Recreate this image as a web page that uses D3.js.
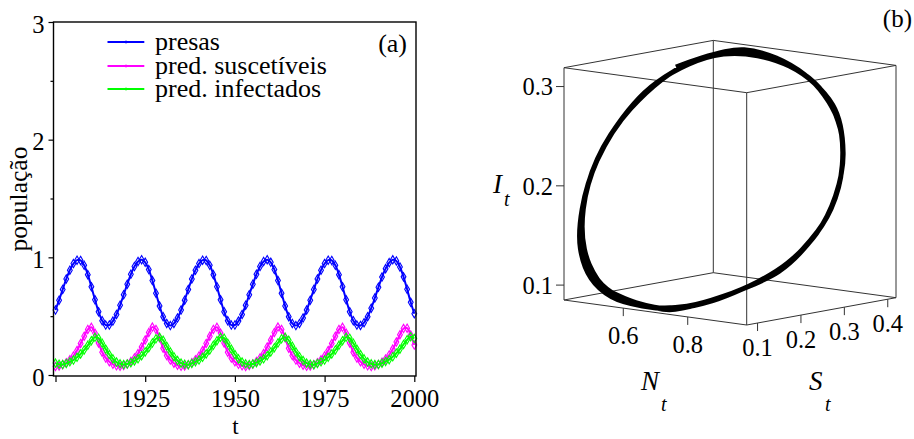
<!DOCTYPE html>
<html>
<head>
<meta charset="utf-8">
<script src="https://cdn.jsdelivr.net/npm/d3@7"></script>
<style>
  body { margin: 0; background: #fff; }
  svg { display: block; }
</style>
</head>
<body>
<svg id="chart" width="914" height="439"></svg>
<script>
// ---- data: yearly values, 1900 .. 2000 ----
const startYear = 1900;

const presas = [
  0.552, 0.636, 0.727, 0.816, 0.891, 0.947, 0.976, 0.974, 0.932, 0.853,
  0.750, 0.639, 0.538, 0.462, 0.424, 0.425, 0.458, 0.515, 0.593, 0.682,
  0.772, 0.856, 0.922, 0.965, 0.980, 0.958, 0.896, 0.803, 0.695, 0.587,
  0.496, 0.438, 0.420, 0.438, 0.484, 0.552, 0.636, 0.727, 0.816, 0.891,
  0.947, 0.976, 0.974, 0.932, 0.853, 0.750, 0.639, 0.538, 0.462, 0.424,
  0.425, 0.458, 0.515, 0.593, 0.682, 0.772, 0.856, 0.922, 0.965, 0.980,
  0.958, 0.896, 0.803, 0.695, 0.587, 0.496, 0.438, 0.420, 0.438, 0.484,
  0.552, 0.636, 0.727, 0.816, 0.891, 0.947, 0.976, 0.974, 0.932, 0.853,
  0.750, 0.639, 0.538, 0.462, 0.424, 0.421, 0.445, 0.496, 0.568, 0.654,
  0.746, 0.832, 0.904, 0.955, 0.979, 0.969, 0.918, 0.834, 0.728, 0.618,
  0.521
];

const predSuscetiveis = [
  0.073, 0.077, 0.087, 0.104, 0.129, 0.162, 0.208, 0.268, 0.330, 0.387,
  0.405, 0.356, 0.273, 0.194, 0.145, 0.113, 0.091, 0.078, 0.074, 0.081,
  0.094, 0.115, 0.144, 0.182, 0.238, 0.298, 0.362, 0.407, 0.387, 0.316,
  0.228, 0.166, 0.127, 0.100, 0.083, 0.074, 0.077, 0.087, 0.104, 0.129,
  0.162, 0.208, 0.268, 0.330, 0.387, 0.405, 0.356, 0.273, 0.194, 0.145,
  0.113, 0.091, 0.078, 0.072, 0.081, 0.094, 0.115, 0.144, 0.182, 0.238,
  0.298, 0.362, 0.407, 0.387, 0.316, 0.228, 0.166, 0.127, 0.100, 0.083,
  0.074, 0.077, 0.087, 0.104, 0.129, 0.162, 0.208, 0.268, 0.330, 0.387,
  0.405, 0.356, 0.273, 0.194, 0.145, 0.113, 0.091, 0.078, 0.072, 0.079,
  0.090, 0.109, 0.135, 0.170, 0.220, 0.280, 0.343, 0.395, 0.398, 0.340,
  0.255
];

const predInfectados = [
  0.101, 0.092, 0.089, 0.098, 0.112, 0.127, 0.150, 0.179, 0.213, 0.252,
  0.292, 0.320, 0.313, 0.270, 0.220, 0.174, 0.137, 0.110, 0.095, 0.089,
  0.093, 0.105, 0.120, 0.138, 0.164, 0.196, 0.232, 0.272, 0.308, 0.321,
  0.295, 0.245, 0.197, 0.155, 0.123, 0.101, 0.092, 0.088, 0.098, 0.112,
  0.127, 0.150, 0.179, 0.213, 0.252, 0.292, 0.320, 0.313, 0.270, 0.220,
  0.174, 0.137, 0.110, 0.095, 0.089, 0.093, 0.105, 0.120, 0.138, 0.164,
  0.196, 0.232, 0.272, 0.308, 0.321, 0.295, 0.245, 0.197, 0.155, 0.123,
  0.101, 0.092, 0.088, 0.098, 0.112, 0.127, 0.150, 0.179, 0.213, 0.252,
  0.292, 0.320, 0.313, 0.270, 0.220, 0.174, 0.137, 0.110, 0.095, 0.089,
  0.090, 0.100, 0.115, 0.130, 0.155, 0.185, 0.220, 0.260, 0.300, 0.325,
  0.310
];

const seriesNames = ["presas", "pred. suscetíveis", "pred. infectados"];
const seriesColors = ["#0000ff", "#ff00ff", "#00ff00"];

const xTickYears = [1900, 1925, 1950, 1975, 2000];
const yTickValues = [0, 1, 2, 3];
const yMinorValues = [0.5, 1.5, 2.5];

// 3-D phase portrait axes (N = presas, S = suscetíveis, I = infectados)
const nDomain = [0.416, 0.983];
const sDomain = [0.075, 0.419];
const iDomain = [0.085, 0.319];
const nTickValues = [0.6, 0.8];
const sTickValues = [0.1, 0.2, 0.3, 0.4];
const iTickValues = [0.1, 0.2, 0.3];

// ---- drawing ----
const SERIF = '"Liberation Serif"';
const svg = d3.select("#chart");
const years = presas.map((_, i) => startYear + i);
const series = [presas, predSuscetiveis, predInfectados].map((vals, k) => ({
  name: seriesNames[k],
  color: seriesColors[k],
  points: vals.map((v, i) => ({ t: years[i], v }))
}));

function label(sel, size, italic) {
  sel.style("font-family", SERIF).style("font-size", size + "px").attr("fill", "#000");
  if (italic) sel.style("font-style", "italic");
  return sel;
}

// ===== panel (a): time series =====
const frame = { left: 53.5, right: 416, top: 22, bottom: 376 };
const x = d3.scaleLinear().domain([1900, 2000]).range([55.5, 414.3]);
const y = d3.scaleLinear().domain([0, 3]).range([375, 22]);

const pa = svg.append("g");

const line = d3.line().x(d => x(d.t)).y(d => y(d.v)).curve(d3.curveCatmullRom.alpha(0.5));
const marker = d3.symbol().type(d3.symbolDiamond).size(20);

series.forEach(s => {
  const g = pa.append("g");
  g.append("path")
    .attr("d", line(s.points))
    .attr("fill", "none")
    .attr("stroke", s.color)
    .attr("stroke-width", 2);
  g.selectAll("path.mk").data(s.points).join("path")
    .attr("class", "mk")
    .attr("d", marker)
    .attr("transform", d => `translate(${x(d.t)},${y(d.v)})`)
    .attr("fill", "none")
    .attr("stroke", s.color)
    .attr("stroke-width", 1.1);
});

// frame
pa.append("rect")
  .attr("x", frame.left).attr("y", frame.top)
  .attr("width", frame.right - frame.left).attr("height", frame.bottom - frame.top)
  .attr("fill", "none").attr("stroke", "#000").attr("stroke-width", 1.4);

function styleAxis(g, size) {
  g.select(".domain").remove();
  g.selectAll(".tick line").attr("stroke", "#000").attr("stroke-width", 1.2);
  label(g.selectAll(".tick text"), size);
}

const gx = pa.append("g").attr("transform", `translate(0,${frame.bottom})`)
  .call(d3.axisBottom(x).tickValues(xTickYears).tickSize(6).tickPadding(8)
    .tickFormat(d => d === 1900 ? "" : d3.format("d")(d)));
styleAxis(gx, 24.5);

const gy = pa.append("g").attr("transform", `translate(${frame.left},0)`)
  .call(d3.axisLeft(y).tickValues(yTickValues).tickSize(5).tickPadding(4).tickFormat(d3.format("d")));
styleAxis(gy, 24.5);
gy.selectAll(".tick text").attr("dy", "0.42em");

const gym = pa.append("g").attr("transform", `translate(${frame.left},0)`)
  .call(d3.axisLeft(y).tickValues(yMinorValues).tickSize(3).tickFormat(""));
styleAxis(gym, 24);

// axis titles
label(pa.append("text"), 25.5)
  .attr("transform", `translate(27,199) rotate(-90)`)
  .attr("text-anchor", "middle")
  .text("população");
label(pa.append("text"), 23)
  .attr("x", (x(1900) + x(2000)) / 2 + 0.5).attr("y", 434)
  .attr("text-anchor", "middle")
  .text("t");
label(pa.append("text"), 26)
  .attr("x", 407).attr("y", 52)
  .attr("text-anchor", "end")
  .text("(a)");

// legend
const legendRows = [42, 66, 89];
const lg = pa.append("g");
series.forEach((s, k) => {
  const ly = legendRows[k];
  lg.append("line")
    .attr("x1", 107.5).attr("x2", 144.3).attr("y1", ly).attr("y2", ly)
    .attr("stroke", s.color).attr("stroke-width", 2);
  lg.append("line")
    .attr("x1", 126).attr("x2", 126).attr("y1", ly - 1.5).attr("y2", ly + 1.5)
    .attr("stroke", s.color).attr("stroke-width", 1);
  label(lg.append("text"), 26)
    .attr("x", 155).attr("y", ly + 7.5)
    .text(s.name);
});

// ===== panel (b): 3-D phase portrait =====
const nS = d3.scaleLinear().domain(nDomain).range([0, 1]);
const sS = d3.scaleLinear().domain(sDomain).range([0, 1]);
const iS = d3.scaleLinear().domain(iDomain).range([0, 1]);
// projection basis (orthographic view of the unit cube)
const origin = [564, 300];
const eN = [182.7, 25];
const eS = [149.3, -27.3];
const eI = [0, -232.3];
function project(n, s, i) {
  const a = nS(n), b = sS(s), c = iS(i);
  return [origin[0] + a * eN[0] + b * eS[0] + c * eI[0],
          origin[1] + a * eN[1] + b * eS[1] + c * eI[1]];
}

const pb = svg.append("g");

// bounding box: 12 edges
const corners = [];
[0, 1].forEach(a => [0, 1].forEach(b => [0, 1].forEach(c =>
  corners.push({ k: [a, b, c], p: project(nDomain[a], sDomain[b], iDomain[c]) }))));
const edges = [];
corners.forEach((c1, i) => corners.forEach((c2, j) => {
  if (j > i) {
    const diff = c1.k.reduce((acc, v, q) => acc + (v !== c2.k[q] ? 1 : 0), 0);
    if (diff === 1) edges.push([c1.p, c2.p]);
  }
}));
pb.selectAll("line.edge").data(edges).join("line")
  .attr("class", "edge")
  .attr("x1", d => d[0][0]).attr("y1", d => d[0][1])
  .attr("x2", d => d[1][0]).attr("y2", d => d[1][1])
  .attr("stroke", "#333").attr("stroke-width", 1);

// I ticks on the left vertical edge
iTickValues.forEach(v => {
  const p = project(nDomain[0], sDomain[0], v);
  pb.append("line").attr("x1", p[0] - 8).attr("x2", p[0]).attr("y1", p[1]).attr("y2", p[1])
    .attr("stroke", "#333").attr("stroke-width", 1);
  label(pb.append("text"), 24.5).attr("x", p[0] - 11).attr("y", p[1]).attr("dy", "0.36em")
    .attr("text-anchor", "end")
    .text(v.toFixed(1));
});
// N ticks on the front-left bottom edge
nTickValues.forEach(v => {
  const p = project(v, sDomain[0], iDomain[0]);
  pb.append("line").attr("x1", p[0]).attr("x2", p[0]).attr("y1", p[1]).attr("y2", p[1] + 8)
    .attr("stroke", "#333").attr("stroke-width", 1);
  label(pb.append("text"), 24.5).attr("x", p[0]).attr("y", p[1] + 36)
    .attr("text-anchor", "middle")
    .text(v.toFixed(1));
});
// S ticks on the front-right bottom edge
sTickValues.forEach(v => {
  const p = project(nDomain[1], v, iDomain[0]);
  pb.append("line").attr("x1", p[0]).attr("x2", p[0]).attr("y1", p[1]).attr("y2", p[1] + 8)
    .attr("stroke", "#333").attr("stroke-width", 1);
  label(pb.append("text"), 24.5).attr("x", p[0]).attr("y", p[1] + 33)
    .attr("text-anchor", "middle")
    .text(v.toFixed(1));
});

// trajectory
const traj = presas.map((n, i) => project(n, predSuscetiveis[i], predInfectados[i]));
pb.append("path")
  .attr("d", d3.line().curve(d3.curveCatmullRom.alpha(0.5))(traj))
  .attr("fill", "none")
  .attr("stroke", "#000")
  .attr("stroke-width", 4.8)
  .attr("stroke-linejoin", "round");

// axis titles with subscripts
function subLabel(xp, yp, main, sub, subX, subY) {
  label(pb.append("text"), 27, true).attr("x", xp).attr("y", yp).text(main);
  label(pb.append("text"), 20, true).attr("x", subX).attr("y", subY).text(sub);
}
subLabel(493, 193, "I", "t", 504, 206);
subLabel(641, 390, "N", "t", 661, 411);
subLabel(809, 390, "S", "t", 825, 411);

label(pb.append("text"), 25)
  .attr("x", 912).attr("y", 27)
  .attr("text-anchor", "end")
  .text("(b)");
</script>
</body>
</html>
